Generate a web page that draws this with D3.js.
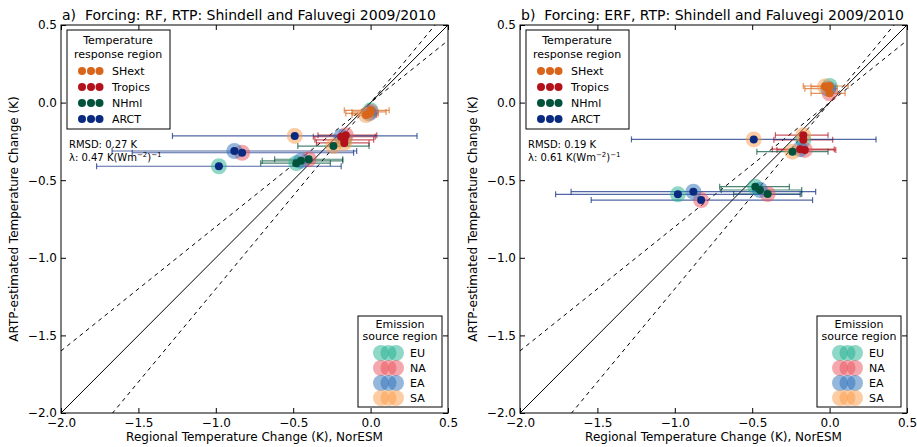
<!DOCTYPE html>
<html>
<head>
<meta charset="utf-8">
<script src="https://cdn.jsdelivr.net/npm/d3@7"></script>
<style>
  body { margin: 0; background: #fff; }
  svg { font-family: "DejaVu Sans", sans-serif; }
  .tick text { font-size: 12px; fill: #000; }
  .tick line { stroke: #000; }
</style>
</head>
<body>
<div id="chart"></div>
<script>
// Emission / response regions (order of the value arrays: EU, NA, EA, SA)
const emissions = ["EU", "NA", "EA", "SA"];
const responses = ["SHext", "Tropics", "NHml", "ARCT"];
const ticks = [-2.0, -1.5, -1.0, -0.5, 0.0, 0.5];

// NorESM regional temperature change (x) and its range (error bars)
const xSHext   = [0.00, 0.00, -0.01, -0.03];
const xTropics = [-0.17, -0.16, -0.19, -0.17];
const xNHml    = [-0.48, -0.40, -0.45, -0.24];
const xARCT    = [-0.98, -0.83, -0.88, -0.49];

const loSHext   = [-0.17, -0.12, -0.16, -0.12];
const hiSHext   = [0.12, 0.10, 0.05, 0.04];
const loTropics = [-0.36, -0.34, -0.37, -0.35];
const hiTropics = [0.02, 0.04, 0.03, -0.01];
const loNHml    = [-0.71, -0.62, -0.70, -0.47];
const hiNHml    = [-0.26, -0.18, -0.18, -0.01];
const loARCT    = [-1.77, -1.54, -1.67, -1.28];
const hiARCT    = [-0.19, -0.11, -0.09, 0.30];

// ARTP-estimated temperature change, panel a (RF)
const rfSHext   = [-0.05, -0.06, -0.07, -0.08];
const rfTropics = [-0.24, -0.21, -0.22, -0.26];
const rfNHml    = [-0.39, -0.365, -0.375, -0.28];
const rfARCT    = [-0.41, -0.323, -0.312, -0.215];

// ARTP-estimated temperature change, panel b (ERF)
const erfSHext   = [0.107, 0.06, 0.09, 0.103];
const erfTropics = [-0.24, -0.305, -0.30, -0.21];
const erfNHml    = [-0.542, -0.589, -0.563, -0.316];
const erfARCT    = [-0.591, -0.628, -0.574, -0.237];

const emisColor = {EU: "#20b090", NA: "#ea4f5a", EA: "#2a6fb8", SA: "#fc9a45"};
const respColor = {SHext: "#d8651a", Tropics: "#b3121c", NHml: "#00533a", ARCT: "#0a2a80"};

function buildPoints(yArrs) {
  var xs = [xSHext, xTropics, xNHml, xARCT];
  var los = [loSHext, loTropics, loNHml, loARCT];
  var his = [hiSHext, hiTropics, hiNHml, hiARCT];
  var pts = [];
  responses.forEach(function(r, i) {
    emissions.forEach(function(e, j) {
      pts.push({resp: r, emis: e, x: xs[i][j], lo: los[i][j], hi: his[i][j], y: yArrs[i][j]});
    });
  });
  return pts;
}

var svg = d3.select("#chart").append("svg")
  .attr("width", 917)
  .attr("height", 447);

function drawPanel(left, title, pts, rmsd, lam) {
  var right = left + 387, top = 25, bottom = 413;
  var x = d3.scaleLinear().domain([-2, 0.5]).range([left, right]);
  var y = d3.scaleLinear().domain([-2, 0.5]).range([bottom, top]);
  var fmt = d3.format(".1f");

  var g = svg.append("g");

  var clipId = "clip" + left;
  g.append("clipPath").attr("id", clipId)
    .append("rect").attr("x", left).attr("y", top).attr("width", right - left).attr("height", bottom - top);

  var plot = g.append("g").attr("clip-path", "url(#" + clipId + ")");

  // 1:1 line and +/-20% lines
  [1, 1.2, 0.8].forEach(function(k) {
    plot.append("line")
      .attr("x1", x(-2)).attr("y1", y(-2 * k))
      .attr("x2", x(0.5)).attr("y2", y(0.5 * k))
      .attr("stroke", "#000")
      .attr("stroke-width", 1)
      .attr("stroke-dasharray", k == 1 ? null : "4,4");
  });

  // error bars
  var eb = plot.selectAll("g.eb").data(pts).enter().append("g").attr("class", "eb")
    .attr("stroke", function(d) { return respColor[d.resp]; })
    .attr("stroke-opacity", 0.7)
    .attr("stroke-width", 1.2);
  eb.append("line")
    .attr("x1", function(d) { return x(d.lo); }).attr("x2", function(d) { return x(d.hi); })
    .attr("y1", function(d) { return y(d.y); }).attr("y2", function(d) { return y(d.y); });
  eb.append("line")
    .attr("x1", function(d) { return x(d.lo); }).attr("x2", function(d) { return x(d.lo); })
    .attr("y1", function(d) { return y(d.y) - 3; }).attr("y2", function(d) { return y(d.y) + 3; });
  eb.append("line")
    .attr("x1", function(d) { return x(d.hi); }).attr("x2", function(d) { return x(d.hi); })
    .attr("y1", function(d) { return y(d.y) - 3; }).attr("y2", function(d) { return y(d.y) + 3; });

  // emission-region halos, then response-region dots
  plot.selectAll("circle.halo").data(pts).enter().append("circle")
    .attr("class", "halo")
    .attr("cx", function(d) { return x(d.x); })
    .attr("cy", function(d) { return y(d.y); })
    .attr("r", 8)
    .attr("fill", function(d) { return emisColor[d.emis]; })
    .attr("fill-opacity", 0.5);
  plot.selectAll("circle.dot").data(pts).enter().append("circle")
    .attr("class", "dot")
    .attr("cx", function(d) { return x(d.x); })
    .attr("cy", function(d) { return y(d.y); })
    .attr("r", 4)
    .attr("fill", function(d) { return respColor[d.resp]; });

  // axes, ticks pointing inward on all four sides
  g.append("g").attr("transform", "translate(0," + bottom + ")")
    .call(d3.axisBottom(x).tickValues(ticks).tickFormat(fmt).tickSize(-5).tickPadding(5))
    .call(function(a) { a.select(".domain").remove(); });
  g.append("g").attr("transform", "translate(0," + top + ")")
    .call(d3.axisTop(x).tickValues(ticks).tickFormat("").tickSize(-5))
    .call(function(a) { a.select(".domain").remove(); });
  g.append("g").attr("transform", "translate(" + left + ",0)")
    .call(d3.axisLeft(y).tickValues(ticks).tickFormat(fmt).tickSize(-5).tickPadding(4))
    .call(function(a) { a.select(".domain").remove(); });
  g.append("g").attr("transform", "translate(" + right + ",0)")
    .call(d3.axisRight(y).tickValues(ticks).tickFormat("").tickSize(-5))
    .call(function(a) { a.select(".domain").remove(); });
  g.selectAll(".tick text").attr("font-family", "DejaVu Sans").attr("font-size", 12);

  g.append("rect")
    .attr("x", left).attr("y", top).attr("width", right - left).attr("height", bottom - top)
    .attr("fill", "none").attr("stroke", "#000").attr("stroke-width", 1);

  // titles
  g.append("text").attr("x", left + 1).attr("y", 20)
    .attr("font-size", 14).attr("xml:space", "preserve")
    .text(title);
  g.append("text").attr("x", (left + right) / 2).attr("y", 441)
    .attr("text-anchor", "middle").attr("font-size", 12)
    .text("Regional Temperature Change (K), NorESM");
  g.append("text")
    .attr("transform", "translate(" + (left - 43) + "," + ((top + bottom) / 2) + ") rotate(-90)")
    .attr("text-anchor", "middle").attr("font-size", 12)
    .text("ARTP-estimated Temperature Change (K)");

  // statistics
  g.append("text").attr("x", left + 8).attr("y", 148).attr("font-size", 10).text("RMSD: " + rmsd + " K");
  var lt = g.append("text").attr("x", left + 8).attr("y", 161).attr("font-size", 10);
  lt.append("tspan").text("\u03bb: " + lam + " K(Wm");
  lt.append("tspan").attr("dy", -4).attr("font-size", 7).text("\u22122");
  lt.append("tspan").attr("dy", 4).text(")");
  lt.append("tspan").attr("dy", -4).attr("font-size", 7).text("\u22121");

  // legend: temperature response region
  var lx = left + 6, ly = 30;
  g.append("rect").attr("x", lx).attr("y", ly).attr("width", 103).attr("height", 99)
    .attr("fill", "#fff").attr("stroke", "#000").attr("stroke-width", 1);
  g.append("text").attr("x", lx + 51).attr("y", ly + 14).attr("text-anchor", "middle")
    .attr("font-size", 11).text("Temperature");
  g.append("text").attr("x", lx + 51).attr("y", ly + 28).attr("text-anchor", "middle")
    .attr("font-size", 11).text("response region");
  var rl = g.selectAll("g.rleg").data(responses).enter().append("g").attr("class", "rleg")
    .attr("transform", function(d, i) { return "translate(" + lx + "," + (ly + 41 + i * 16) + ")"; });
  [15, 24, 32.5].forEach(function(cx) {
    rl.append("circle").attr("cx", cx).attr("cy", 0).attr("r", 4)
      .attr("fill", function(d) { return respColor[d]; });
  });
  rl.append("text").attr("x", 45).attr("y", 4).attr("font-size", 11).text(function(d) { return d; });

  // legend: emission source region
  var ex = right - 90, ey = 316;
  g.append("rect").attr("x", ex).attr("y", ey).attr("width", 84).attr("height", 91)
    .attr("fill", "#fff").attr("stroke", "#000").attr("stroke-width", 1);
  g.append("text").attr("x", ex + 42).attr("y", ey + 12).attr("text-anchor", "middle")
    .attr("font-size", 11).text("Emission");
  g.append("text").attr("x", ex + 42).attr("y", ey + 24).attr("text-anchor", "middle")
    .attr("font-size", 11).text("source region");
  var el = g.selectAll("g.eleg").data(emissions).enter().append("g").attr("class", "eleg")
    .attr("transform", function(d, i) { return "translate(" + ex + "," + (ey + 37 + i * 15) + ")"; });
  [23, 30.5, 38].forEach(function(cx) {
    el.append("circle").attr("cx", cx).attr("cy", 0).attr("r", 8)
      .attr("fill", function(d) { return emisColor[d]; })
      .attr("fill-opacity", 0.5);
  });
  el.append("text").attr("x", 52).attr("y", 4).attr("font-size", 11).text(function(d) { return d; });
}

drawPanel(61, "a)  Forcing: RF, RTP: Shindell and Faluvegi 2009/2010",
  buildPoints([rfSHext, rfTropics, rfNHml, rfARCT]), "0.27", "0.47");
drawPanel(520, "b)  Forcing: ERF, RTP: Shindell and Faluvegi 2009/2010",
  buildPoints([erfSHext, erfTropics, erfNHml, erfARCT]), "0.19", "0.61");
</script>
</body>
</html>
